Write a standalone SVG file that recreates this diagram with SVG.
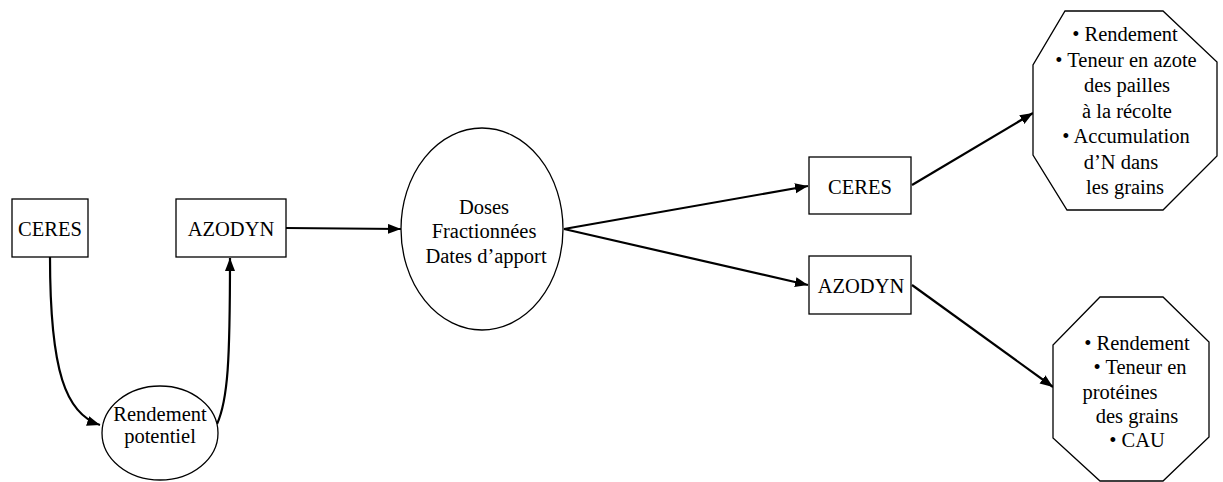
<svg xmlns="http://www.w3.org/2000/svg" width="1223" height="482" viewBox="0 0 1223 482">
<style>
.n{fill:#fff;stroke:#000;stroke-width:1.3}
.t{font-family:"Liberation Serif","Times New Roman",serif;font-size:20.5px;fill:#000;text-anchor:middle}
.c{fill:none;stroke:#000;stroke-width:2.2}
</style>
<defs>
<marker id="ah" markerUnits="userSpaceOnUse" markerWidth="14" markerHeight="12" refX="13" refY="5" orient="auto">
<path d="M0,0 L13,5 L0,10 Z" fill="#000"/>
</marker>
</defs>
<rect width="1223" height="482" fill="#fff"/>
<g id="connectors">
<path class="c" d="M50,257 C50,372 66,414 100,425" marker-end="url(#ah)"/>
<path class="c" d="M217,424 C228,400 230,360 230,258" marker-end="url(#ah)"/>
<path class="c" d="M286,228 L401,229" marker-end="url(#ah)"/>
<path class="c" d="M564,229 L808,186" marker-end="url(#ah)"/>
<path class="c" d="M564,229 L808,285" marker-end="url(#ah)"/>
<path class="c" d="M912,185 L1033,113" marker-end="url(#ah)"/>
<path class="c" d="M912,285 L1053,387" marker-end="url(#ah)"/>
</g>
<g id="ceres1">
<rect class="n" x="12" y="199" width="76" height="58"/>
<text class="t" x="50" y="236">CERES</text>
</g>
<g id="azodyn1">
<rect class="n" x="176" y="199" width="110" height="58"/>
<text class="t" x="231" y="236">AZODYN</text>
</g>
<g id="rendement">
<ellipse class="n" cx="160" cy="433" rx="58" ry="47"/>
<text class="t" x="160" y="421">Rendement</text>
<text class="t" x="160" y="443">potentiel</text>
</g>
<g id="doses">
<ellipse class="n" cx="482" cy="229" rx="81" ry="101"/>
<text class="t" x="484" y="214">Doses</text>
<text class="t" x="484" y="238">Fractionnées</text>
<text class="t" x="486" y="263">Dates d’apport</text>
</g>
<g id="ceres2">
<rect class="n" x="809" y="157" width="102" height="57"/>
<text class="t" x="860" y="194">CERES</text>
</g>
<g id="azodyn2">
<rect class="n" x="809" y="256" width="102" height="58"/>
<text class="t" x="861" y="293">AZODYN</text>
</g>
<g id="out1">
<polygon class="n" points="1065,11 1163,11 1217,62 1217,156 1163,210 1067,210 1033,155 1033,65"/>
<text class="t" x="1125" y="41">• Rendement</text>
<text class="t" x="1126" y="66.5">• Teneur en azote</text>
<text class="t" x="1127" y="92">des pailles</text>
<text class="t" x="1127" y="117.5">à la récolte</text>
<text class="t" x="1126" y="143">• Accumulation</text>
<text class="t" x="1121" y="168.5">d’N dans</text>
<text class="t" x="1125" y="194">les grains</text>
</g>
<g id="out2">
<polygon class="n" points="1100,297 1163,297 1209,342 1209,437 1163,481 1100,481 1053,438 1053,345"/>
<text class="t" x="1137" y="350">• Rendement</text>
<text class="t" x="1140" y="374">• Teneur en</text>
<text class="t" x="1120" y="398.5">protéines</text>
<text class="t" x="1137" y="423">des grains</text>
<text class="t" x="1137" y="447">• CAU</text>
</g>
</svg>
